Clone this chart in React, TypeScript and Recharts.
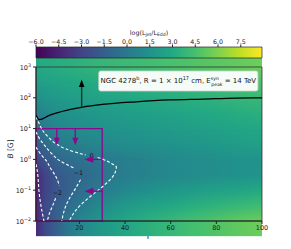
import React from "react";
import { ComposedChart, XAxis, YAxis, Scatter, ReferenceArea } from "recharts";

const FONT = "DejaVu Sans";

// heat map: Γ of each column, log10(B) of each row
const gammaCols = [1, 5, 10, 15, 20, 30, 40, 50, 60, 70, 80, 90, 100];
const logBRows = [3, 2.5, 2, 1.5, 1, 0.5, 0, -0.5, -1, -1.5, -2];

// log(L_jet / L_Edd), one array per B row
const heatB3 = [3.0, 3.1, 3.2, 3.35, 3.5, 3.8, 4.05, 4.3, 4.55, 4.8, 5.05, 5.3, 5.55];
const heatB2p5 = [2.2, 2.4, 2.6, 2.75, 2.9, 3.2, 3.45, 3.7, 3.9, 4.1, 4.3, 4.5, 4.7];
const heatB2 = [1.3, 1.7, 2.0, 2.15, 2.3, 2.6, 2.8, 3.0, 3.2, 3.4, 3.6, 3.8, 4.0];
const heatB1p5 = [0.25, 0.8, 1.3, 1.5, 1.7, 2.0, 2.2, 2.4, 2.6, 2.8, 3.0, 3.2, 3.4];
const heatB1 = [-0.75, 0.2, 0.8, 1.0, 1.2, 1.5, 1.7, 1.9, 2.1, 2.3, 2.5, 2.7, 2.9];
const heatB0p5 = [-1.8, -0.8, 0.0, 0.25, 0.5, 0.9, 1.2, 1.4, 1.6, 1.8, 2.0, 2.2, 2.4];
const heatB0 = [-2.9, -2.0, -1.2, -0.7, -0.4, 0.0, 0.4, 0.7, 0.95, 1.15, 1.35, 1.5, 1.65];
const heatBm0p5 = [-4.2, -3.0, -1.9, -1.5, -1.1, -0.3, 0.25, 0.6, 0.9, 1.1, 1.3, 1.45, 1.6];
const heatBm1 = [-4.4, -3.0, -2.1, -1.4, -0.7, 0.2, 0.9, 1.4, 1.8, 2.1, 2.4, 2.7, 3.0];
const heatBm1p5 = [-4.3, -2.7, -1.6, -0.8, -0.1, 1.1, 1.9, 2.5, 2.9, 3.3, 3.6, 3.9, 4.2];
const heatBm2 = [-4.3, -2.7, -1.4, -0.1, 0.8, 2.0, 2.8, 3.4, 3.9, 4.4, 4.8, 5.2, 5.5];
const heatRows = [heatB3, heatB2p5, heatB2, heatB1p5, heatB1, heatB0p5, heatB0, heatBm0p5, heatBm1, heatBm1p5, heatBm2];

const cbarTicks = [-6, -4.5, -3, -1.5, 0, 1.5, 3, 4.5, 6, 7.5];
const cbarMin = -6;
const cbarMax = 8.9;
const gammaTicks = [20, 40, 60, 80, 100];
const bTicks = [0.01, 0.1, 1, 10, 100, 1000];

// lower limit on B (black curve)
const bMinCurve = [
  { g: 1, B: 27 }, { g: 2.5, B: 19.5 }, { g: 6.8, B: 27 }, { g: 15.6, B: 41 },
  { g: 21.4, B: 50 }, { g: 30.2, B: 61 }, { g: 44.8, B: 74 }, { g: 59.4, B: 85 },
  { g: 74, B: 91 }, { g: 88.6, B: 98 }, { g: 100, B: 100 },
];

// white dashed contours (split where the inline label sits)
const contour0Upper = [
  { g: 1, B: 24 }, { g: 2.5, B: 14 }, { g: 3.9, B: 8.7 }, { g: 6.5, B: 5.2 },
  { g: 9.8, B: 3.2 }, { g: 14, B: 2.2 }, { g: 18.5, B: 1.7 }, { g: 22.8, B: 1.38 },
];
const contour0Lower = [
  { g: 28, B: 1.15 }, { g: 30.5, B: 1.0 }, { g: 33.5, B: 0.78 }, { g: 36.2, B: 0.56 },
  { g: 35.8, B: 0.4 }, { g: 34.2, B: 0.25 }, { g: 31.5, B: 0.16 }, { g: 28.3, B: 0.1 },
  { g: 23.9, B: 0.055 }, { g: 19, B: 0.025 }, { g: 15.5, B: 0.01 },
];
const contourM1Upper = [
  { g: 1, B: 7.8 }, { g: 3, B: 4.2 }, { g: 5.4, B: 2.5 }, { g: 8, B: 1.5 },
  { g: 11.2, B: 0.93 }, { g: 14.5, B: 0.68 }, { g: 17.5, B: 0.53 },
];
const contourM1Lower = [
  { g: 20.5, B: 0.22 }, { g: 18.5, B: 0.12 }, { g: 16, B: 0.06 }, { g: 14, B: 0.03 }, { g: 12.3, B: 0.01 },
];
const contourM2Upper = [
  { g: 1, B: 2.5 }, { g: 3, B: 1.5 }, { g: 5.4, B: 0.93 }, { g: 7.5, B: 0.5 },
  { g: 9.8, B: 0.27 }, { g: 11.2, B: 0.14 },
];
const contourM2Lower = [
  { g: 9.6, B: 0.055 }, { g: 8, B: 0.028 }, { g: 6.8, B: 0.017 }, { g: 6, B: 0.01 },
];
const contourM3 = [
  { g: 1, B: 0.7 }, { g: 1.5, B: 0.45 }, { g: 1.9, B: 0.25 }, { g: 2.3, B: 0.093 },
  { g: 3.1, B: 0.034 }, { g: 4.5, B: 0.01 },
];
const contourLabels = [
  { g: 25.3, B: 1.3, text: "0" },
  { g: 19.6, B: 0.36, text: "\u22121" },
  { g: 10.4, B: 0.083, text: "\u22122" },
];

// arrows
const blackShaft = [{ g: 21, B: 50 }, { g: 21, B: 235 }];
const blackTip = [{ g: 21, B: 390 }];
const purpleDownShafts = [
  [{ g: 10.1, B: 10 }, { g: 10.1, B: 4.6 }],
  [{ g: 18.2, B: 10 }, { g: 18.2, B: 4.6 }],
];
const purpleDownTips = [{ g: 10.1, B: 2.9 }, { g: 18.2, B: 2.9 }];
const purpleLeftShafts = [
  [{ g: 30, B: 1 }, { g: 25.5, B: 1 }],
  [{ g: 30, B: 0.093 }, { g: 25.5, B: 0.093 }],
];
const purpleLeftTips = [{ g: 22.2, B: 1 }, { g: 22.2, B: 0.093 }];

// colour bar end points
const cbarEnds = [{ c: cbarMin, y: 0 }, { c: cbarMax, y: 1 }];

const VIRIDIS = [
  "#440154", "#482475", "#414487", "#355f8d", "#2a788e", "#21918c",
  "#22a884", "#44bf70", "#7ad151", "#bddf26", "#fde725",
];

function hexToRgb(h: string) {
  return [1, 3, 5].map((i) => parseInt(h.slice(i, i + 2), 16));
}

function viridis(t: number) {
  const c = Math.min(1, Math.max(0, t)) * (VIRIDIS.length - 1);
  const i = Math.min(VIRIDIS.length - 2, Math.floor(c));
  const f = c - i;
  const a = hexToRgb(VIRIDIS[i]);
  const b = hexToRgb(VIRIDIS[i + 1]);
  const m = a.map((v, k) => Math.round(v + (b[k] - v) * f));
  return `rgb(${m[0]},${m[1]},${m[2]})`;
}

const colorOf = (v: number) => viridis((v - cbarMin) / (cbarMax - cbarMin));

const PURPLE = "#8b0a8b";
const lineOnly = () => <g />;

const fmtCbar = (v: number) => (v < 0 ? "\u2212" : "") + Math.abs(v).toFixed(1);

// eslint-disable-next-line @typescript-eslint/no-explicit-any
const LogTick = (props: any) => {
  const { x, y, payload } = props;
  const e = Math.round(Math.log10(payload.value));
  const es = (e < 0 ? "\u2212" : "") + Math.abs(e);
  return (
    <text x={x} y={y + 2.5} textAnchor="end" fontSize={6.5} fontFamily={FONT} fill="#222">
      10
      <tspan dy={-3} fontSize={4.8}>{es}</tspan>
    </text>
  );
};

// eslint-disable-next-line @typescript-eslint/no-explicit-any
const headDown = (p: any) => (
  <polygon points={`${p.cx},${p.cy} ${p.cx - 3},${p.cy - 7.5} ${p.cx + 3},${p.cy - 7.5}`} fill={PURPLE} />
);
// eslint-disable-next-line @typescript-eslint/no-explicit-any
const headLeft = (p: any) => (
  <polygon points={`${p.cx},${p.cy} ${p.cx + 9},${p.cy - 3.3} ${p.cx + 9},${p.cy + 3.3}`} fill={PURPLE} />
);
// eslint-disable-next-line @typescript-eslint/no-explicit-any
const headUp = (p: any) => (
  <polygon points={`${p.cx},${p.cy} ${p.cx - 2.8},${p.cy + 7.5} ${p.cx + 2.8},${p.cy + 7.5}`} fill="#000" />
);
// eslint-disable-next-line @typescript-eslint/no-explicit-any
const contourText = (p: any) => (
  <text x={p.cx} y={p.cy + 2.2} textAnchor="middle" fontSize={6.3} fontFamily={FONT} fill="#111">
    {p.payload.text}
  </text>
);

// eslint-disable-next-line @typescript-eslint/no-explicit-any
const InfoLabel = (props: any) => {
  const vb = props.viewBox || { x: 98.7, y: 71, width: 159, height: 20 };
  const cx = vb.x + vb.width / 2;
  const cy = vb.y + vb.height / 2 + 2.4;
  return (
    <text x={cx} y={cy} textAnchor="middle" fontSize={7} fontFamily={FONT} fill="#111">
      NGC 4278<tspan dy={-3} fontSize={5}>b</tspan>
      <tspan dy={3}>,  R = 1 × 10</tspan>
      <tspan dy={-3} fontSize={5}>17</tspan>
      <tspan dy={3}> cm,  E</tspan>
      <tspan dy={-3} fontSize={4.6}>syn</tspan>
      <tspan dx={-7.6} dy={5.2} fontSize={4.6}>peak</tspan>
      <tspan dy={-2.2}> = 14 TeV</tspan>
    </text>
  );
};

const rowStep = 0.5;

export default function App() {
  return (
    <div style={{ position: "absolute", left: 0, top: 0, width: 291, height: 249, background: "#fff" }}>
      <div style={{ position: "absolute", left: 0, top: 0 }}>
        <ComposedChart width={291} height={249} margin={{ top: 67, right: 29, bottom: 0, left: 4 }}>
          <defs>
            {heatRows.map((row, i) => (
              <linearGradient key={i} id={`heatRow${i}`} x1="0" y1="0" x2="1" y2="0">
                {row.map((v, j) => (
                  <stop key={j} offset={(gammaCols[j] - 1) / 99} stopColor={colorOf(v)} />
                ))}
              </linearGradient>
            ))}
            <linearGradient id="rampG" x1="0" y1="0" x2="0" y2="1">
              <stop offset="0" stopColor="#000" />
              <stop offset="0.5" stopColor="#fff" />
              <stop offset="1" stopColor="#fff" />
            </linearGradient>
            <mask id="ramp" maskContentUnits="objectBoundingBox">
              <rect x="0" y="0" width="1" height="1" fill="url(#rampG)" />
            </mask>
          </defs>

          <XAxis
            type="number"
            dataKey="g"
            domain={[1, 100]}
            ticks={gammaTicks}
            allowDataOverflow
            height={28}
            tickSize={3}
            tickMargin={1}
            stroke="#222"
            tick={{ fontSize: 6.5, fontFamily: FONT, fill: "#222" }}
          />
          <YAxis
            type="number"
            dataKey="B"
            scale="log"
            domain={[0.01, 1000]}
            allowDataOverflow
            ticks={bTicks}
            width={32}
            tickSize={3}
            tickMargin={2}
            stroke="#222"
            tick={<LogTick />}
          />

          {/* heat map rows, each blended into the one above */}
          {logBRows.map((b, i) => (
            <ReferenceArea
              key={`band${i}`}
              x1={1}
              x2={100}
              y1={Math.pow(10, b - rowStep)}
              y2={Math.pow(10, b + rowStep)}
              ifOverflow="hidden"
              // eslint-disable-next-line @typescript-eslint/no-explicit-any
              shape={(p: any) => (
                <rect
                  x={p.x}
                  y={p.y}
                  width={p.width}
                  height={p.height}
                  fill={`url(#heatRow${i})`}
                  mask={i === 0 ? undefined : "url(#ramp)"}
                />
              )}
            />
          ))}

          <ReferenceArea x1={1} x2={100} y1={0.01} y2={1000} fill="none" stroke="#333" strokeWidth={0.8} ifOverflow="visible" />

          {[contour0Upper, contour0Lower, contourM1Upper, contourM1Lower, contourM2Upper, contourM2Lower, contourM3].map((c, i) => (
            <Scatter
              key={`c${i}`}
              data={c}
              shape={lineOnly}
              line={{ stroke: "#fff", strokeWidth: 1.1, strokeDasharray: "3 2" }}
              lineJointType="monotoneY"
              isAnimationActive={false}
            />
          ))}
          <Scatter data={contourLabels} shape={contourText} isAnimationActive={false} />

          <Scatter
            data={bMinCurve}
            shape={lineOnly}
            line={{ stroke: "#000", strokeWidth: 1.3 }}
            lineJointType="monotoneX"
            isAnimationActive={false}
          />

          <ReferenceArea x1={1} x2={30} y1={0.01} y2={10} fill="none" stroke={PURPLE} strokeWidth={1.3} ifOverflow="visible" />

          <Scatter data={blackShaft} shape={lineOnly} line={{ stroke: "#0d3a2e", strokeWidth: 1.4 }} isAnimationActive={false} />
          <Scatter data={blackTip} shape={headUp} isAnimationActive={false} />
          {purpleDownShafts.map((s, i) => (
            <Scatter key={`pd${i}`} data={s} shape={lineOnly} line={{ stroke: PURPLE, strokeWidth: 1.3 }} isAnimationActive={false} />
          ))}
          <Scatter data={purpleDownTips} shape={headDown} isAnimationActive={false} />
          {purpleLeftShafts.map((s, i) => (
            <Scatter key={`pl${i}`} data={s} shape={lineOnly} line={{ stroke: PURPLE, strokeWidth: 1.3 }} isAnimationActive={false} />
          ))}
          <Scatter data={purpleLeftTips} shape={headLeft} isAnimationActive={false} />

          <ReferenceArea
            x1={28.5}
            x2={98.2}
            y1={166}
            y2={741}
            ifOverflow="visible"
            // eslint-disable-next-line @typescript-eslint/no-explicit-any
            shape={(p: any) => (
              <rect x={p.x} y={p.y} width={p.width} height={p.height} rx={2} fill="#fff" fillOpacity={0.95} stroke="#d0d0d0" strokeWidth={0.8} />
            )}
            label={<InfoLabel />}
          />

          <text x={149} y={239} textAnchor="middle" fontSize={8} fontFamily={FONT} fill="#222">Γ</text>
          <text x={10} y={149} textAnchor="middle" dominantBaseline="central" fontSize={7.5} fontFamily={FONT} fill="#222" transform="rotate(-90 10 149)">
            <tspan fontStyle="italic">B</tspan> [G]
          </text>
        </ComposedChart>
      </div>

      <div style={{ position: "absolute", left: 0, top: 0 }}>
        <ComposedChart width={291} height={59} margin={{ top: 20, right: 29, bottom: 1, left: 36 }}>
          <defs>
            <linearGradient id="cbarG" x1="0" y1="0" x2="1" y2="0">
              {VIRIDIS.map((c, i) => (
                <stop key={i} offset={i / (VIRIDIS.length - 1)} stopColor={c} />
              ))}
            </linearGradient>
          </defs>
          <XAxis
            type="number"
            dataKey="c"
            orientation="top"
            domain={[cbarMin, cbarMax]}
            ticks={cbarTicks}
            allowDataOverflow
            height={27}
            tickSize={2.5}
            tickMargin={1}
            axisLine={false}
            stroke="#222"
            tickFormatter={fmtCbar}
            tick={{ fontSize: 6.3, fontFamily: FONT, fill: "#222" }}
          />
          <YAxis type="number" dataKey="y" domain={[0, 1]} hide />
          <Scatter data={cbarEnds} shape={lineOnly} isAnimationActive={false} />
          <ReferenceArea x1={cbarMin} x2={cbarMax} y1={0} y2={1} fill="url(#cbarG)" fillOpacity={1} stroke="#222" strokeWidth={0.7} ifOverflow="visible" />
          <text x={149} y={34.5} textAnchor="middle" fontSize={6.3} fontFamily={FONT} fill="#222">
            log(L<tspan dy={1.6} fontSize={4.6}>jet</tspan>
            <tspan dy={-1.6}>/L</tspan>
            <tspan dy={1.6} fontSize={4.6}>Edd</tspan>
            <tspan dy={-1.6}>)</tspan>
          </text>
        </ComposedChart>
      </div>
    </div>
  );
}
